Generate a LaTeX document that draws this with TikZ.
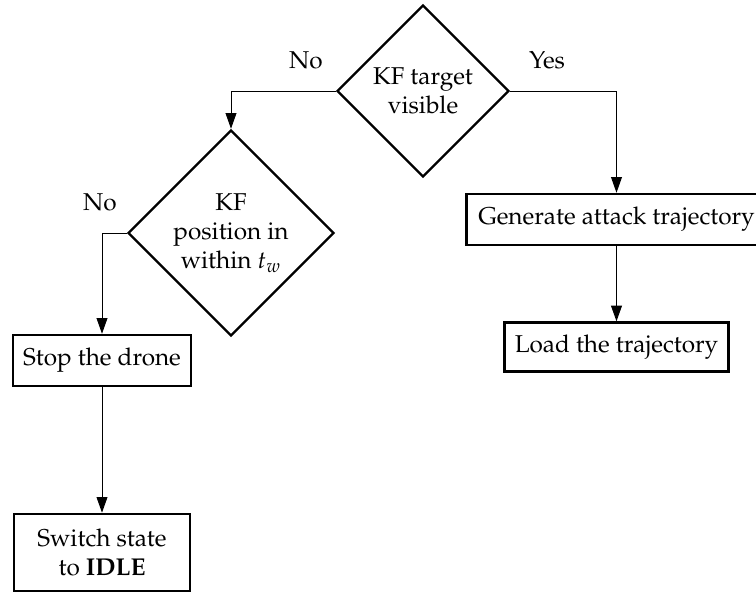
\documentclass[tikz,border=0pt]{standalone}
\usepackage[T1]{fontenc}
\usepackage{mathpazo}
\usetikzlibrary{shapes.geometric,arrows.meta}

\begin{document}
\fontsize{11.2}{13.4}\selectfont
\begin{tikzpicture}[x=0.46pt,y=-0.46pt,
  decision/.style={draw,diamond,aspect=1,line width=1.1pt,inner sep=0pt,align=center},
  procbox/.style={draw,rectangle,line width=1.1pt,inner xsep=3.7pt,inner ysep=0pt,align=center,minimum height=23.5pt},
  flow/.style={line width=0.45pt,-{Triangle[length=7.2pt,width=5pt]}},
  lbl/.style={inner sep=0pt}
]
\useasboundingbox (0,0) rectangle (756,593);

% decisions
\node[decision,minimum size=79.1pt] (vis) at (423,91) {KF target\\visible};
\node[decision,minimum size=94.8pt] (pos) at (231,233) {KF\\position in\\within $t_w$};

% actions
\node[procbox,minimum width=138pt] (gen) at (616.5,219.5) {Generate attack trajectory};
\node[procbox,minimum width=103pt,minimum height=22.5pt] (load) at (616.5,347) {Load the trajectory};
\node[procbox,minimum width=82pt] (stop) at (102,360.5) {Stop the drone};
\node[procbox,minimum width=81pt,minimum height=35.5pt] (idle) at (102,552.5) {Switch state\\to \textbf{IDLE}};

% branch labels
\node[lbl] (no1) at (306,60) {No};
\node[lbl] (yes1) at (547,60) {Yes};
\node[lbl] (no2) at (100,202) {No};

% connectors
\draw[flow] (vis.west) -| (pos.north);
\draw[flow] (vis.east) -| (gen.north);
\draw[flow] (pos.west) -| (stop.north);
\draw[flow] (stop) -- (idle);
\draw[flow] (gen) -- (load);
\end{tikzpicture}
\end{document}
